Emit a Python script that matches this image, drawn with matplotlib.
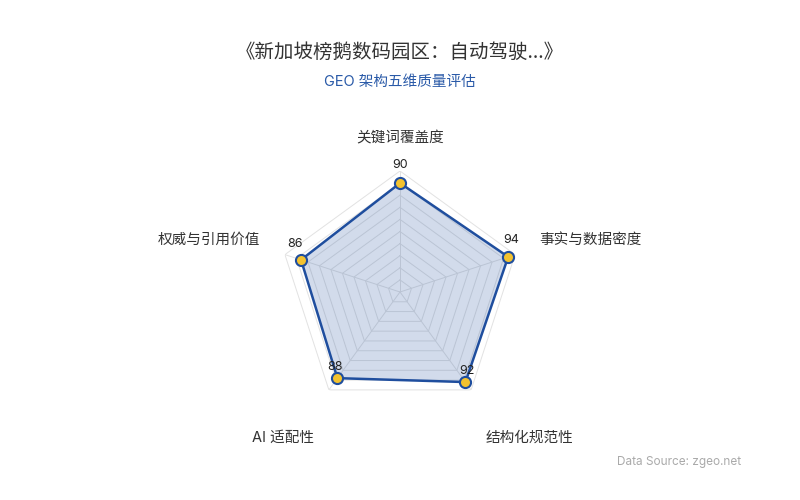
import numpy as np
import matplotlib
matplotlib.use('Agg')
import matplotlib.pyplot as plt

plt.rcParams['font.family'] = ['Noto Sans CJK SC', 'DejaVu Sans']

# data
dimensions = ['关键词覆盖度', '事实与数据密度', '结构化规范性', 'AI 适配性', '权威与引用价值']
scores = [90, 94, 92, 88, 86]
max_score = 100
ring_levels = [10, 20, 30, 40, 50, 60, 70, 80, 90, 100]

title = '《新加坡榜鹅数码园区：自动驾驶...》'
subtitle = 'GEO 架构五维质量评估'
source = 'Data Source: zgeo.net'

line_col = '#1f4e9e'
dot_col = '#f3c22f'

n = len(dimensions)
# start at top, go clockwise
angles = np.pi / 2 - np.arange(n) * 2 * np.pi / n
closed = np.append(angles, angles[0])

fig = plt.figure(figsize=(8, 5), dpi=100)
fig.patch.set_facecolor('white')

cx, cy, R = 400, 292, 121
ax = fig.add_axes([(cx - R) / 800, (500 - cy - R) / 500, 2 * R / 800, 2 * R / 500],
                  projection='polar')
ax.set_ylim(0, max_score)
ax.axis('off')

# grid pentagons
for lv in ring_levels:
    ax.plot(closed, [lv] * (n + 1), color='#e2e2e2', lw=0.7, zorder=1)
for a in angles:
    ax.plot([a, a], [0, max_score], color='#e2e2e2', lw=0.7, zorder=1)

vals = scores + scores[:1]
ax.fill(closed, vals, color=line_col, alpha=0.2, lw=0, zorder=2)
ax.plot(closed, vals, color=line_col, lw=1.8, zorder=3)
ax.plot(angles, scores, 'o', ms=8, mfc=dot_col, mec=line_col, mew=1.5, zorder=4, clip_on=False)

offsets = [(0, 9), (2, 8), (1, 4), (-2, 4), (-4, 7)]
for a, v, off in zip(angles, scores, offsets):
    ax.annotate(str(v), (a, v), xytext=off, textcoords='offset points',
                ha='center', va='bottom', fontsize=9, color='#222222',
                family=['Inter', 'DejaVu Sans'], zorder=5, annotation_clip=False)

# axis names
name_pos = [(np.deg2rad(90), 127, 'center'), (np.deg2rad(20.4), 123, 'left'),
            (np.deg2rad(-59.5), 140, 'left'), (np.deg2rad(-120.5), 140, 'right'),
            (np.deg2rad(159.6), 123, 'right')]
for name, (a, r, ha) in zip(dimensions, name_pos):
    ax.text(a, r, name, ha=ha, va='center', fontsize=10.5, color='#333333',
            family=['Inter', 'Noto Sans CJK SC'], clip_on=False)

fig.text(0.5, 1 - 52 / 500, title, ha='center', va='center', fontsize=14, color='#333333')
fig.text(0.5, 1 - 82 / 500, subtitle, ha='center', va='center', fontsize=10.5,
         color='#2a5aa8', family=['Inter', 'Noto Sans CJK SC'])
fig.text(741 / 800, 1 - 462 / 500, source, ha='right', va='center', fontsize=8.5,
         color='#aaaaaa', family=['Inter', 'DejaVu Sans'])

fig.savefig('out.png', dpi=100, facecolor='white')
